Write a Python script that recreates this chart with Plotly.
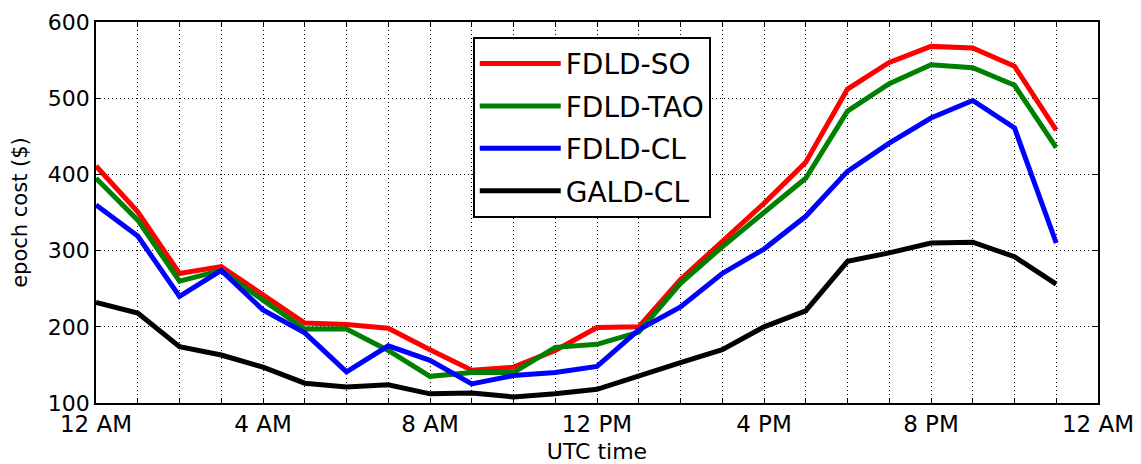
import plotly.graph_objects as go

hours = list(range(24))
tick_vals = [0, 4, 8, 12, 16, 20, 24]
tick_text = ["12 AM", "4 AM", "8 AM", "12 PM", "4 PM", "8 PM", "12 AM"]

fdld_so = [411, 351, 270, 279, 242, 205, 203, 198, 170, 143, 147, 169, 199, 200, 262, 312, 362, 416, 512, 547, 568, 566, 542, 458]
fdld_tao = [395, 340, 260, 274, 235, 197, 197, 169, 135, 140, 140, 173, 177, 193, 257, 305, 350, 395, 483, 519, 544, 540, 517, 435]
fdld_cl = [360, 319, 240, 274, 222, 192, 141, 175, 156, 125, 136, 140, 148, 196, 226, 270, 302, 345, 404, 441, 474, 497, 461, 310]
gald_cl = [232, 218, 174, 163, 147, 126, 121, 124, 112, 113, 108, 112, 118, 136, 153, 170, 200, 221, 286, 297, 310, 311, 292, 256]

series = [
    ("FDLD-SO", fdld_so, "#ff0000"),
    ("FDLD-TAO", fdld_tao, "#008000"),
    ("FDLD-CL", fdld_cl, "#0000ff"),
    ("GALD-CL", gald_cl, "#000000"),
]

fig = go.Figure()
for name, vals, color in series:
    fig.add_trace(go.Scatter(
        x=hours, y=vals, mode="lines", name=name, legendgroup=name,
        line=dict(color=color, width=5),
    ))

font_family = "DejaVu Sans"
dots = "1px,3px"

# page body has an 8px margin, so the figure is sized to fit the window
fig.update_layout(
    width=1133, height=456,
    margin=dict(l=88, r=43, t=14, b=61, autoexpand=False),
    paper_bgcolor="white", plot_bgcolor="white",
    font=dict(family=font_family, size=22, color="black"),
    showlegend=True,
    legend=dict(
        x=0.376, y=0.961, xanchor="left", yanchor="top",
        bgcolor="white", bordercolor="black", borderwidth=2,
        font=dict(size=28, family=font_family, color="black"),
        tracegroupgap=3, itemwidth=81,
    ),
    xaxis=dict(
        range=[0, 24], tickmode="array", tickvals=tick_vals, ticktext=tick_text,
        ticks="inside", ticklen=5, tickcolor="black", automargin=False,
        showline=True, linecolor="black", linewidth=1.5, mirror="ticks",
        showgrid=True, gridcolor="black", gridwidth=1, griddash=dots,
        zeroline=False,
        tickfont=dict(size=23),
        title=dict(text="UTC time", font=dict(size=22), standoff=8),
        minor=dict(dtick=1, tick0=0, ticks="inside", ticklen=4, tickcolor="black",
                   showgrid=True, gridcolor="black", gridwidth=1, griddash=dots),
    ),
    yaxis=dict(
        range=[100, 600], dtick=100, tick0=100,
        ticks="inside", ticklen=5, tickcolor="black", automargin=False,
        showline=True, linecolor="black", linewidth=1.5, mirror="ticks",
        showgrid=True, gridcolor="black", gridwidth=1, griddash=dots,
        zeroline=False,
        tickfont=dict(size=22),
        title=dict(text="epoch cost ($)", font=dict(size=21), standoff=14),
    ),
)

fig.write_html("out.html")
